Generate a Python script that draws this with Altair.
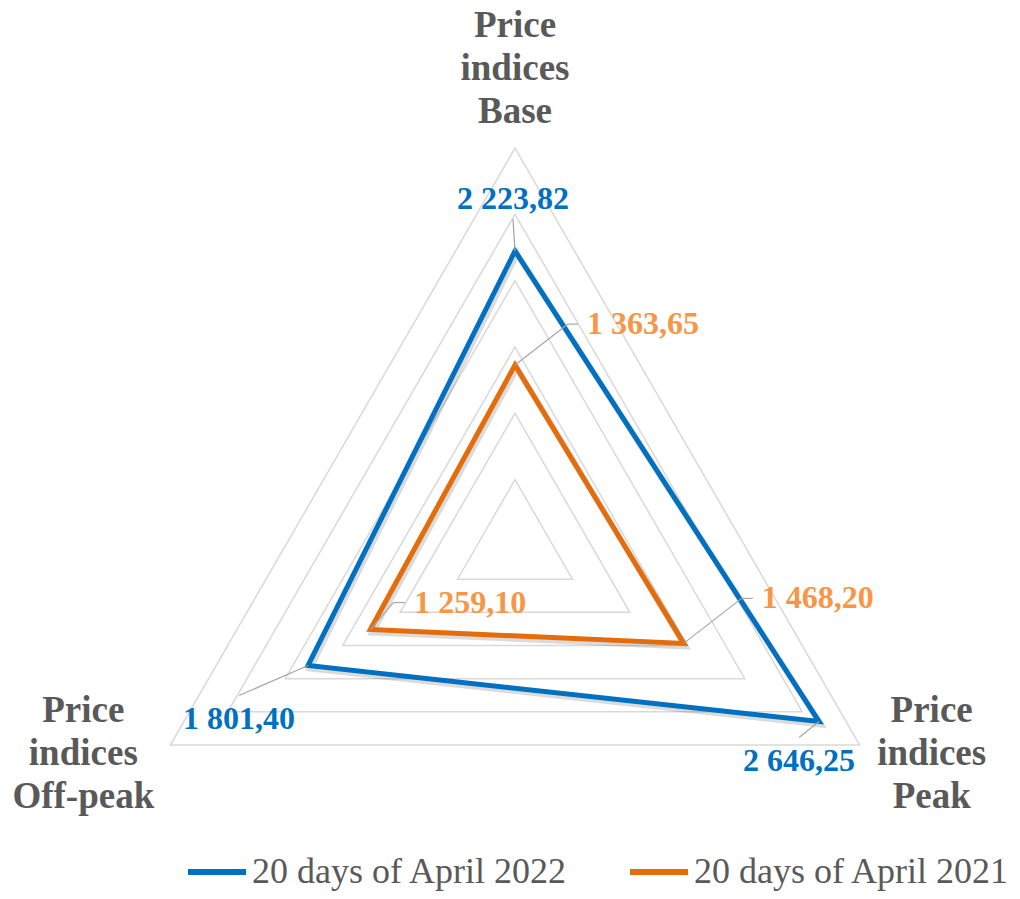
import math
import altair as alt
import pandas as pd

# ---------------- data ----------------
categories = ["Price indices Base", "Price indices Peak", "Price indices Off-peak"]
category_lines = [["Price", "indices", "Base"],
                  ["Price", "indices", "Peak"],
                  ["Price", "indices", "Off-peak"]]
series_names = ["20 days of April 2022", "20 days of April 2021"]
values_2022 = [2223.82, 2646.25, 1801.40]
values_2021 = [1363.65, 1468.20, 1259.10]
grid_levels = [500, 1000, 1500, 2000, 2500, 3000]
axis_max = 3000

# ---------------- styling / layout ----------------
series_colors = ["#0070C0", "#E46C0A"]
label_colors = ["#0070C0", "#F79646"]
FONT = "Liberation Serif"
W, H = 1004, 883          # plot area (autosize none, padding 0)
CX, CY = 507, 538         # pixel position of the radar centre
RPX = 398                 # pixel radius of axis_max
s = RPX / axis_max
xdom = [-CX / s, (W - CX) / s]
ydom = [-(H - CY) / s, CY / s]


def fmt(v):
    return f"{v:,.2f}".replace(",", " ").replace(".", ",")


rows = []
for name, vals in zip(series_names, [values_2022, values_2021]):
    for i, (c, v) in enumerate(zip(categories, vals)):
        rows.append({"series": name, "category": c, "i": i, "value": v, "label": fmt(v)})
series_df = pd.DataFrame(rows)

grid_df = pd.DataFrame([{"level": L, "i": i, "value": L}
                        for L in grid_levels for i in range(len(categories))])

cat_df = pd.DataFrame([{"category": c, "i": i, "value": axis_max, "text": "\n".join(ln)}
                       for i, (c, ln) in enumerate(zip(categories, category_lines))])

n = len(categories)
polar = dict(
    x=f"datum.value * sin(2 * PI * datum.i / {n})",
    y=f"datum.value * cos(2 * PI * datum.i / {n})",
)
X = alt.X("x:Q", scale=alt.Scale(domain=xdom, nice=False, zero=False), axis=None)
Y = alt.Y("y:Q", scale=alt.Scale(domain=ydom, nice=False, zero=False), axis=None)

grid = alt.Chart(grid_df).transform_calculate(**polar).mark_line(
    interpolate="linear-closed", color="#D9D9D9", strokeWidth=1.5
).encode(x=X, y=Y, detail="level:N", order="i:Q")

shadow = alt.Chart(series_df).transform_calculate(**polar).mark_line(
    interpolate="linear-closed", color="#000000", opacity=0.14, strokeWidth=6,
    xOffset=2, yOffset=3
).encode(x=X, y=Y, detail="series:N", order="i:Q")

lines = alt.Chart(series_df).transform_calculate(**polar).mark_line(
    interpolate="linear-closed", strokeWidth=5
).encode(
    x=X, y=Y, order="i:Q",
    color=alt.Color(
        "series:N",
        scale=alt.Scale(domain=series_names, range=series_colors),
        legend=alt.Legend(
            orient="none", legendX=177, legendY=832, direction="horizontal",
            title=None, symbolType="stroke", symbolStrokeWidth=6, symbolSize=3364,
            labelFont=FONT, labelFontSize=36, labelColor="#595959", labelOffset=3,
            columnPadding=50, padding=0, labelLimit=0,
        ),
    ),
)

# label placement: (series idx, cat idx) -> leader points (px offsets), text offset, align
placements = {
    (0, 0): dict(lead=[(-2, -32)], text=(-2, -52), align="center"),
    (1, 0): dict(lead=[(53, -41), (63, -41)], text=(72, -41), align="left"),
    (1, 1): dict(lead=[(58, -45), (69, -45)], text=(78, -45), align="left"),
    (0, 1): dict(lead=[(-20, 16)], text=(-20, 39), align="center"),
    (0, 2): dict(lead=[(-69, 30)], text=(-69, 54), align="center"),
    (1, 2): dict(lead=[(23, -27), (35, -27)], text=(44, -27), align="left"),
}

layers = [grid, shadow, lines]
for (si, ci), p in placements.items():
    base = alt.Chart(series_df).transform_filter(
        (alt.datum.series == series_names[si]) & (alt.datum.i == ci)
    ).transform_calculate(**polar)
    prev = (0, 0)
    for pt in p["lead"]:
        layers.append(base.mark_rule(
            color="#A6A6A6", strokeWidth=1.2,
            xOffset=prev[0], yOffset=prev[1], x2Offset=pt[0], y2Offset=pt[1]
        ).encode(x=X, y=Y, x2="x:Q", y2="y:Q"))
        prev = pt
    layers.append(base.mark_text(
        font=FONT, fontSize=32, fontWeight="bold", color=label_colors[si],
        align=p["align"], baseline="middle", dx=p["text"][0], dy=p["text"][1]
    ).encode(x=X, y=Y, text="label:N"))

cat_place = [dict(dx=0, dy=-111, align="center"),
             dict(dx=72, dy=-23, align="center"),
             dict(dx=-87, dy=-23, align="center")]
for ci, p in enumerate(cat_place):
    layers.append(alt.Chart(cat_df).transform_filter(alt.datum.i == ci)
                  .transform_calculate(**polar).mark_text(
        font=FONT, fontSize=37, fontWeight="bold", color="#595959",
        align=p["align"], baseline="alphabetic", lineBreak="\n", lineHeight=43,
        dx=p["dx"], dy=p["dy"]
    ).encode(x=X, y=Y, text="text:N"))

chart = alt.layer(*layers).properties(
    width=W, height=H, padding=0, background="white",
    autosize=alt.AutoSizeParams(type="none"),
).configure_view(stroke=None, strokeWidth=0)

chart.save("out.html", embed_options={"renderer": "svg", "actions": False})
